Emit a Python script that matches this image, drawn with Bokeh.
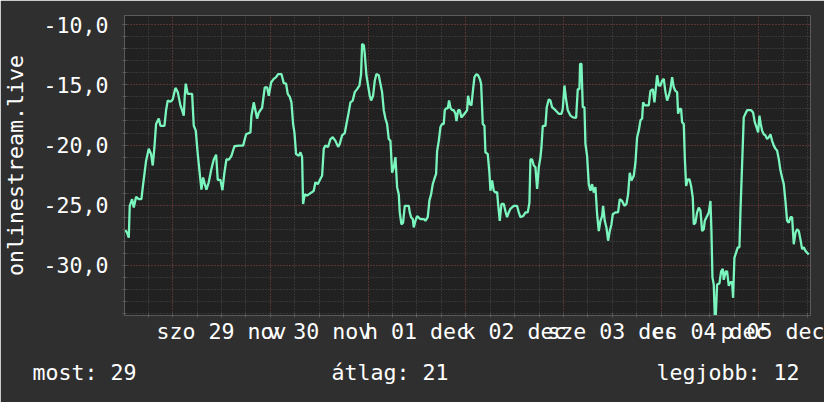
from bokeh.plotting import figure
from bokeh.models import FixedTicker, Range1d, Title
from bokeh.embed import file_html
from bokeh.resources import INLINE

# ---- data: hours since 29 Nov 00:00, temperature-like value ----
hours = [-11.62, -11.21, -10.80, -10.56, -9.98, -9.57, -9.0, -8.35, -7.69, -7.36, -6.95, -6.54,
         -5.89, -5.32, -4.91, -4.50, -4.09, -3.43, -3.02, -2.04, -1.63, -1.22, -0.56, 0.01,
         0.66, 1.24, 1.89, 2.30, 2.71, 2.96, 3.20, 3.69, 4.76, 5.17, 5.66, 6.15, 6.56, 7.05,
         7.46, 7.87, 8.28, 8.85, 9.43, 10.08, 10.66, 11.06, 11.72, 12.21, 12.70, 13.19, 13.85,
         14.42, 15.16, 16.22, 17.29, 18.03, 19.09, 19.34, 19.91,
         20.73, 21.14, 21.96, 22.61, 23.19, 23.6, 24.17, 24.82, 25.4, 25.89, 26.71, 27.28,
         27.85, 28.26, 28.76, 29.17, 29.57, 29.9, 30.31, 30.97, 31.38, 31.79, 32.03, 32.44,
         33.01, 33.42, 34.08, 34.65, 35.06, 35.64, 36.29, 36.7, 37.11, 37.52, 38.17, 38.75,
         39.32, 39.98, 40.63, 41.04, 41.61, 42.27, 42.6, 43.09, 43.66, 44.23, 44.73, 45.3,
         45.87, 46.28, 46.53, 46.94, 47.18, 47.59, 48.0, 48.41, 48.74, 49.23, 49.64, 50.05,
         50.62, 51.03, 51.44, 51.85, 52.26, 52.67, 53.08,
         53.49, 53.9, 54.31, 54.72, 55.13, 55.54, 55.78, 56.19, 56.6, 57.01, 57.99, 58.24,
         58.57, 58.98, 59.22, 59.63, 60.04, 60.86, 61.68, 62.09, 62.66, 63.07, 63.48, 63.89,
         64.3, 64.71, 64.96, 65.37, 65.78, 66.18, 66.59, 66.84, 67.17, 67.58, 67.9, 68.23,
         68.64, 69.05, 69.46, 69.71, 70.12, 70.53, 70.93, 71.34, 71.92, 72.33, 72.57, 72.98,
         73.39, 73.72, 74.13, 74.62, 75.03, 75.44, 75.77, 76.18, 76.59, 76.83, 77.4, 77.81,
         78.06, 78.47, 78.88, 79.29, 79.7, 79.94, 80.35, 80.76, 81.34, 81.75, 82.15, 82.56,
         82.97, 83.79, 84.61, 85.02, 85.43, 86.09, 86.5,
         86.66, 87.23, 87.64, 87.89, 88.3, 88.71, 89.12, 89.53, 89.94, 90.35, 90.59, 90.92,
         91.57, 91.9, 92.39, 92.8, 93.21, 94.03, 94.85, 95.51, 95.83, 96.24, 96.65, 97.06,
         97.72, 98.37, 99.11, 99.52, 99.93, 100.09, 100.42, 100.75, 101.16, 101.4, 101.81,
         102.22, 102.63, 103.04, 103.45, 103.86, 104.27, 104.68, 105.09, 105.5, 105.74,
         106.15, 106.56, 106.97, 107.38, 107.79, 108.12, 108.77, 109.42, 109.84, 110.41,
         110.98, 111.48, 111.88, 112.29, 112.7, 113.28, 113.69, 114.1, 114.51, 114.92,
         115.33, 115.57, 115.98, 116.55, 116.96, 117.37, 117.95, 118.36, 118.77, 119.01, 119.42,
         119.83, 120.24, 120.65, 121.06, 121.47, 121.88, 122.29, 122.7, 123.11, 123.52,
         123.93, 124.17, 124.5, 124.91, 125.15, 125.56, 125.81, 126.14, 126.55, 126.96,
         127.36, 127.77, 128.02, 128.43, 128.84, 129.25, 129.66, 130.07, 130.48, 130.72,
         131.3, 131.71, 132.12, 132.36, 132.61, 132.93, 133.18, 133.43, 133.75, 134.33,
         134.74, 135.15, 135.39, 135.88, 136.21, 136.62, 137.03, 137.44, 137.68, 138.01,
         138.42, 138.83, 139.24, 139.49, 139.9, 140.3, 140.71, 141.12, 142.11, 142.6, 143.01,
         143.42, 143.83, 144.15, 144.48, 144.81, 145.22, 145.63, 146.04, 146.45, 146.86,
         147.27, 147.68, 148.09, 148.49, 148.9, 149.31, 149.72, 150.13, 150.54, 150.95,
         151.36, 151.77, 152.18, 152.59, 153.0, 153.41, 153.82, 154.23, 154.64, 155.05,
         155.46, 155.87, 156.28]

values = [-27.08, -27.3, -27.7, -25.05, -24.5, -25.2, -24.3, -24.5, -24.5, -23.5, -22.4, -21.3,
          -20.3, -20.75, -21.7, -20.2, -18.25, -17.8, -18.4, -18.4, -17.1, -16.3, -16.4, -16.2,
          -15.25, -15.6, -16.7, -17.1, -17.55, -15.9, -14.9, -15.75, -15.75, -18.4, -18.8, -20.75,
          -22.1, -23.7, -22.7, -23.25, -23.7, -23.1, -22.1, -21.2, -20.8, -22.9, -22.9, -23.75,
          -22.3, -21.2, -21.2, -20.9, -20.1, -20.05, -20.05, -19.1, -18.95, -17.55, -16.45,
          -17.8, -17.3, -16.9, -15.2, -15.2, -15.9, -14.8, -14.5, -14.35, -14.1, -14.1, -14.85,
          -14.9, -15.75, -16.0, -16.45, -18.25, -18.95, -20.75, -20.9, -20.6, -21.0, -24.9, -24.1,
          -24.2, -24.1, -23.95, -23.8, -23.1, -23.25, -22.8, -22.55, -20.3, -20.05, -20.15, -19.5,
          -19.35, -19.65, -20.15, -19.9, -19.2, -19.0, -18.4, -17.55, -16.45, -16.3, -15.6, -15.35,
          -15.05, -14.1, -11.6, -11.7, -12.4, -14.2, -15.05, -15.9, -16.3, -15.9, -14.65, -14.1,
          -14.2, -14.9, -15.6, -17.1, -17.8, -18.25, -19.5,
          -19.65, -22.3, -21.85, -21.0, -23.5, -24.1, -25.6, -26.6, -26.45, -25.05, -25.05, -25.6,
          -26.0, -26.15, -26.85, -26.3, -25.9, -26.15, -26.15, -26.3, -26.0, -24.6, -24.1, -23.25,
          -22.8, -22.4, -20.5, -19.65, -18.5, -18.25, -18.25, -17.1, -16.95, -16.95, -16.3, -16.9,
          -17.1, -17.1, -17.4, -18.0, -17.1, -17.1, -17.7, -17.55, -17.3, -17.1, -15.9, -16.6,
          -16.7, -15.6, -14.35, -14.1, -14.2, -14.5, -14.9, -18.25, -18.4, -20.6, -20.75, -22.3,
          -23.8, -22.95, -23.8, -23.95, -23.9, -24.9, -26.3, -24.9, -24.9, -25.5, -26.0, -25.6,
          -25.3, -25.05, -25.05, -25.6, -26.0, -25.9, -25.7,
          -25.6, -25.6, -24.8, -21.2, -21.2, -21.7, -21.85, -23.65, -21.85, -21.0, -20.2, -18.4,
          -18.4, -16.85, -16.2, -16.3, -16.85, -17.1, -17.4, -17.4, -17.0, -15.05, -16.2, -17.1,
          -17.55, -17.7, -17.75, -15.35, -15.35, -13.25, -13.25, -16.85, -16.85, -19.9, -20.9,
          -23.25, -23.8, -23.25, -23.95, -23.5, -25.75, -27.15, -26.3, -25.9, -25.05,
          -26.3, -26.85, -27.95, -27.15, -26.6, -25.75, -25.6, -25.6, -24.5, -24.65,
          -25.05, -24.9, -24.1, -22.3, -22.95, -22.55, -21.45, -19.35, -18.8, -17.95,
          -17.8, -16.45, -16.7, -16.7, -16.7, -15.5, -15.35, -16.45, -15.05, -14.2, -15.05,
          -15.05, -14.65, -14.5, -15.6, -16.3, -15.9, -15.35, -14.35, -15.2, -15.5,
          -15.6, -17.4, -17.0, -17.0, -18.1, -18.25, -21.0, -23.4, -22.85, -22.85,
          -23.4, -24.35, -26.6, -26.45, -25.6, -25.2, -25.45, -27.15, -27.0, -26.3,
          -25.9, -25.6, -24.65, -27.15, -31.0, -31.6, -34.2, -34.2, -31.6, -31.5,
          -30.5, -30.3, -31.2, -30.5, -30.5, -31.7, -31.4, -31.4, -32.7, -29.35,
          -28.95, -28.5, -28.5, -25.5, -21.6, -17.7, -17.4, -17.1, -17.1, -17.3, -18.1,
          -18.5, -18.95, -17.55, -18.25, -18.8, -19.1, -19.2, -19.5, -19.35, -19.1,
          -19.65, -20.05, -20.3, -20.45, -21.15, -22.1, -22.7, -23.25, -24.65, -26.3,
          -26.45, -26.0, -26.0, -28.25, -27.3, -27.0, -27.15, -27.85, -28.65, -28.5,
          -28.8, -28.95, -29.1]

day_noons = [12, 36, 60, 84, 108, 132, 156]
day_labels = ["szo 29 nov", "v 30 nov", "h 01 dec", "k 02 dec", "sze 03 dec", "cs 04 dec", "p 05 dec"]
midnights = [0, 24, 48, 72, 96, 120, 144]
six_hours = [-6 + 6 * i for i in range(28)]
y_major = [-30, -25, -20, -15, -10]
y_labels = ["-30,0", "-25,0", "-20,0", "-15,0", "-10,0"]
y_minor = list(range(-34, -9))
legend_names = ["most", "átlag", "legjobb"]
legend_values = [29, 21, 12]
series_name = "onlinestream.live"

# ---- style ----
FONT = "DejaVu Sans Mono"
FS = "21.6px"
CANVAS = "#2f2f2f"
PLOT_BG = "#212121"
LINE = "#7af5bd"
MINOR = "#4c4c4c"
MAJOR = "#7a3434"
TEXT = "#ffffff"

x0, x1 = -11.85, 156.7
y0, y1 = -34.17, -9.23

p = figure(width=824, height=402, output_backend="svg", toolbar_location=None,
           x_range=Range1d(x0, x1), y_range=Range1d(y0, y1),
           min_border_left=124, min_border_right=14, min_border_top=15, min_border_bottom=87,
           background_fill_color=PLOT_BG, border_fill_color=CANVAS, outline_line_color=None)

p.line(hours, values, line_color=LINE, line_width=2.3)

# grids
p.xgrid.ticker = FixedTicker(ticks=midnights, minor_ticks=six_hours)
p.xgrid.grid_line_color = MAJOR
p.xgrid.grid_line_dash = "1 2"
p.xgrid.minor_grid_line_color = MINOR
p.xgrid.minor_grid_line_dash = "1 2"
p.ygrid.ticker = FixedTicker(ticks=y_major, minor_ticks=y_minor)
p.ygrid.grid_line_color = MAJOR
p.ygrid.grid_line_dash = "1 2"
p.ygrid.minor_grid_line_color = MINOR
p.ygrid.minor_grid_line_dash = "1 2"

# axes
p.xaxis.ticker = FixedTicker(ticks=day_noons, minor_ticks=six_hours)
p.xaxis.major_label_overrides = {k: v for k, v in zip(day_noons, day_labels)}
p.yaxis.ticker = FixedTicker(ticks=y_major, minor_ticks=y_minor)
p.yaxis.major_label_overrides = {k: v for k, v in zip(y_major, y_labels)}
for ax in (p.xaxis[0], p.yaxis[0]):
    ax.axis_line_color = "#5a5a5a"
    ax.major_tick_line_color = "#5a5a5a"
    ax.minor_tick_line_color = "#5a5a5a"
    ax.major_tick_in = 2
    ax.major_tick_out = 2
    ax.minor_tick_in = 2
    ax.minor_tick_out = 2
    ax.major_label_text_font = FONT
    ax.major_label_text_font_size = FS
    ax.major_label_text_color = TEXT
p.xaxis.major_label_standoff = 1
p.yaxis.major_label_standoff = 14
p.yaxis.axis_label = series_name
p.yaxis.axis_label_text_font = FONT
p.yaxis.axis_label_text_font_size = FS
p.yaxis.axis_label_text_font_style = "normal"
p.yaxis.axis_label_text_color = TEXT
p.yaxis.axis_label_standoff = 12

# legend row (rrdtool-style GPRINT line), monospace so columns line up
gap = "\u00a0"
parts = [f"{n}: {v}" for n, v in zip(legend_names, legend_values)]
legend_text = parts[0] + gap * 15 + parts[1] + gap * 16 + parts[2]
p.add_layout(Title(text=legend_text, align="left", offset=-92, standoff=22,
                   text_font=FONT, text_font_size=FS, text_font_style="normal",
                   text_color=TEXT), "below")

open("out.html", "w").write(file_html(p, INLINE))
